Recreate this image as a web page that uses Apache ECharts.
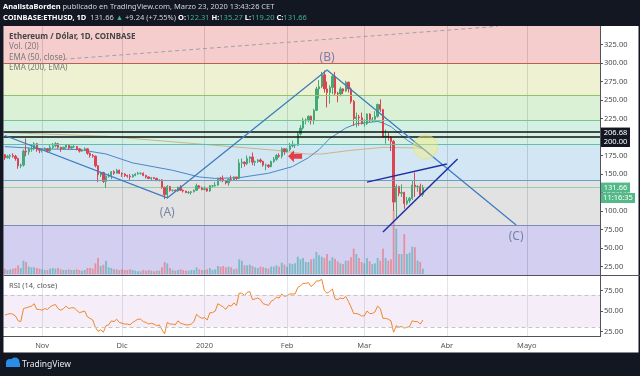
<!DOCTYPE html>
<html>
<head>
<meta charset="utf-8">
<script src="https://cdn.jsdelivr.net/npm/echarts@6/dist/echarts.min.js"></script>
<style>
    html, body { margin: 0; padding: 0; background: #131722; }
    #chart { width: 640px; height: 376px; }
</style>
</head>
<body>
<div id="chart"></div>
<script>
const FONT = "'Noto Sans', sans-serif";

/* Daily categories, 18 Oct 2019 to 28 May 2020. */
const dates = [];
let d = new Date(Date.UTC(2019, 9, 18));
for (let i = 0; i < 224; i++) {
    dates.push(d.toISOString().slice(0, 10));
    d.setUTCDate(d.getUTCDate() + 1);
}

const month_ticks = {
    '2019-11-01': 'Nov', '2019-12-01': 'Dic', '2020-01-01': '2020', '2020-02-01': 'Feb',
    '2020-03-01': 'Mar', '2020-04-01': 'Abr', '2020-05-01': 'Mayo'
};
const price_ticks = [25, 50, 75, 100, 125, 150, 175, 200, 225, 250, 275, 300, 325];
const rsi_ticks = [25, 50, 75];

/* [open, close, low, high] */
const ohlc = [
    [176,172,169,177],[172,174,171,176],[174,175,170,177],[175,174,172,178],[174,171,168,176],[171,161,157,172],[161,162,158,164],
    [162,181,160,183],[181,180,174,198],[180,184,176,186],[184,184,180,189],[184,191,182,193],[191,183,180,192],[183,182,178,185],
    [182,182,179,185],[182,184,181,186],[184,181,179,185],[181,186,180,190],[186,188,184,192],[188,191,186,193],[191,186,184,192],
    [186,184,180,187],[184,186,183,187],[186,189,184,190],[189,185,183,190],[185,187,183,188],[187,187,185,189],[187,184,182,188],
    [184,181,179,185],[181,182,180,184],[182,184,181,186],[184,178,176,185],[178,175,172,179],[175,174,172,177],[174,161,159,175],
    [161,149,139,162],[149,152,146,153],[152,140,138,153],[140,147,131,148],[147,148,145,151],[148,153,143,154],[153,151,149,155],
    [151,155,151,157],[155,151,150,156],
    [151,150,146,152],[150,148,146,151],[148,147,145,149],[147,146,142,150],[146,148,145,150],[148,150,147,151],[150,151,149,153],
    [151,151,149,152],[151,148,147,152],[148,146,144,149],[146,144,143,147],[144,145,142,146],[145,144,143,146],[144,141,141,145],
    [141,142,140,143],[142,132,130,143],[132,122,116,133],[122,133,117,135],[133,128,126,134],[128,128,126,129],[128,127,126,129],
    [127,132,126,133],[132,128,127,135],[128,127,125,129],[127,125,124,127],[125,125,123,127],[125,126,122,127],[126,128,125,129],
    [128,134,127,137],[134,131,130,135],[131,129,128,133],
    [129,130,128,133],[130,127,126,131],[127,134,126,135],[134,134,132,135],[134,135,133,139],[135,144,134,145],[144,143,140,146],
    [143,141,139,148],[141,138,136,142],[138,143,134,144],[143,142,140,148],[142,146,141,147],[146,144,142,146],[144,165,143,170],
    [165,166,158,171],[166,164,160,167],[164,171,162,175],[171,173,165,174],[173,166,162,179],[166,167,161,168],[167,169,165,170],
    [169,167,165,171],[167,162,160,168],[162,162,155,164],[162,160,158,163],[160,167,159,168],[167,170,165,173],[170,175,168,177],
    [175,174,172,178],[174,184,171,186],[184,180,176,185],
    [180,183,179,185],[183,188,181,192],[188,189,186,195],[189,189,185,191],[189,204,188,207],[204,212,202,216],[212,223,210,226],
    [223,223,217,225],[223,228,220,229],[228,222,217,229],[222,236,217,238],[236,265,235,268],[265,268,252,277],[268,284,266,288],
    [284,265,260,290],[265,260,240,275],[260,267,245,270],[267,282,258,284],[282,259,256,288],[259,258,247,261],[258,265,255,268],
    [265,262,258,266],[262,274,261,276],[274,265,260,275],[265,248,245,267],[248,225,215,250],[225,227,213,233],[227,226,215,230],
    [226,218,217,233],
    [218,218,214,224],[218,231,216,232],[231,224,220,232],[224,224,220,227],[224,228,223,235],[228,244,226,245],[244,237,234,251],
    [237,200,199,238],[200,201,191,210],[201,200,195,206],[200,194,181,201],[194,112,100,196],[112,133,90,136],[133,124,120,134],
    [124,125,119,136],[125,110,103,126],[110,114,108,119],[114,117,111,119],[117,135,115,141],[135,133,119,152],[133,133,126,135],
    [133,122,121,137],[122.31,131.66,119.20,135.27]
];

const volume = [
    80, 60, 70, 80, 90, 130, 90, 200, 180, 110, 100, 100, 90, 80,
    70, 60, 60, 80, 90, 80, 90, 70, 60, 60, 70, 60, 60, 70, 60, 50, 60, 90, 90, 80, 160, 240, 120, 140, 200, 100, 90, 70, 70, 60,
    70, 60, 60, 70, 60, 50, 40, 40, 60, 50, 60, 50, 40, 50, 50, 100, 180, 160, 90, 60, 50, 60, 70, 60, 50, 50, 60, 60, 100, 70, 60,
    60, 70, 90, 60, 70, 120, 110, 120, 100, 110, 100, 70, 80, 220, 200, 130, 130, 140, 120, 100, 90, 110, 100, 90, 80, 110, 110, 130, 110, 170, 140,
    110, 160, 150, 160, 260, 220, 240, 180, 180, 220, 230, 330, 280, 260, 240, 300, 200, 250, 230, 190, 160, 150, 200, 200, 250, 380, 300, 240, 180,
    160, 240, 190, 150, 160, 240, 200, 380, 240, 200, 220, 950, 680, 300, 300, 600, 300, 320, 410, 400, 200, 180, 80
];

const rsi = [
    45, 46, 47, 46, 44, 38, 37, 53, 54, 55, 56, 59, 52, 52,
    51, 53, 52, 55, 57, 58, 53, 51, 53, 56, 53, 54, 54, 51, 48, 49, 50, 43, 41, 39, 30, 25, 27, 24, 32, 33, 38, 37, 40, 36,
    35, 34, 34, 33, 36, 38, 40, 40, 37, 36, 34, 35, 34, 32, 33, 27, 22, 36, 34, 34, 33, 38, 35, 34, 33, 33, 34, 37, 46, 43, 41,
    42, 39, 48, 48, 50, 59, 57, 55, 52, 57, 56, 60, 57, 72, 72, 69, 73, 74, 64, 65, 66, 64, 59, 58, 57, 62, 64, 67, 66, 71, 68,
    69, 71, 71, 71, 79, 81, 84, 84, 85, 80, 83, 87, 87, 89, 75, 72, 74, 77, 65, 64, 66, 65, 68, 62, 55, 47, 47, 46, 44,
    44, 50, 47, 47, 49, 56, 53, 41, 41, 40, 38, 24, 32, 30, 31, 29, 30, 31, 38, 37, 37, 34, 39
];

const ema50 = [
    ['2019-10-18', 187], ['2019-11-01', 184], ['2019-11-15', 183], ['2019-11-25', 177], ['2019-12-05', 165],
    ['2019-12-20', 155], ['2019-12-30', 146], ['2020-01-05', 144], ['2020-01-14', 145], ['2020-01-25', 151],
    ['2020-02-03', 160], ['2020-02-09', 172], ['2020-02-13', 183], ['2020-02-17', 198], ['2020-02-23', 212],
    ['2020-02-27', 218], ['2020-03-06', 221], ['2020-03-08', 219], ['2020-03-11', 214], ['2020-03-14', 205],
    ['2020-03-17', 196], ['2020-03-20', 189], ['2020-03-23', 184]
];
const ema200 = [
    ['2019-10-18', 206], ['2019-11-25', 201], ['2020-01-04', 189], ['2020-01-28', 182], ['2020-02-08', 177],
    ['2020-02-14', 177], ['2020-02-25', 182], ['2020-03-08', 186], ['2020-03-23', 185]
];

/* Fibonacci levels (top to bottom) and drawings. */
const fib_levels = [350, 300, 257, 223, 190.5, 142, 81, 13.5];
const fib_fills = ['rgba(220,75,75,0.28)', 'rgba(195,207,87,0.27)', 'rgba(123,203,99,0.27)', 'rgba(87,199,155,0.27)',
    'rgba(87,163,215,0.27)', 'rgba(147,147,147,0.27)', 'rgba(91,79,203,0.27)'];
const fib_line_colors = ['#c0604c', '#94c26a', '#7cc48c', '#5fbfa8', '#6aa0c8', '#7d8cb0'];
const key_levels = [206.68, 200.00];
const last_price = 131.66;
const countdown = '11:16:35';

const wave_points = [['2019-10-18', 202], ['2019-12-18', 117.6], ['2020-02-16', 290.5], ['2020-04-27', 81]];
const wave_labels = [['2019-12-18', 98, '(A)'], ['2020-02-16', 307, '(B)'], ['2020-04-27', 66, '(C)']];
const wedge_upper = [['2020-03-02', 139], ['2020-04-01', 163.5]];
const wedge_lower = [['2020-03-08', 71.6], ['2020-04-05', 170.3]];
const dashed_trend = [['2019-11-09', 305], ['2020-04-20', 349.5]];
const circle_mark = [['2020-03-24', 186.5]];
const arrow_mark = [['2020-02-04', 174]];

const UP = '#45a878', DOWN = '#dc4452';
const VOL_UP = 'rgba(38,166,154,0.5)', VOL_DOWN = 'rgba(239,83,80,0.5)';

let chart = echarts.init(document.getElementById('chart'), null, {renderer: 'canvas'});

let fib_areas = [];
for (let i = 0; i < fib_fills.length; i++) {
    fib_areas.push([{yAxis: fib_levels[i + 1], itemStyle: {color: fib_fills[i]}}, {yAxis: fib_levels[i]}]);
}
let fib_lines = fib_line_colors.map(function (c, i) {
    return {yAxis: fib_levels[i + 1], lineStyle: {color: c, width: 1, type: 'solid'}};
});
key_levels.forEach(function (v) {
    fib_lines.push({yAxis: v, lineStyle: {color: '#111111', width: 1.6, type: 'solid'}});
});
fib_lines.push({yAxis: last_price, lineStyle: {color: '#53b987', width: 1, type: 'dotted'}});

let volume_data = volume.map(function (v, i) {
    return {value: v, itemStyle: {color: ohlc[i][1] >= ohlc[i][0] ? VOL_UP : VOL_DOWN}};
});

let month_split = function (index, value) {
    return month_ticks[value] !== undefined;
};

let option = {
    backgroundColor: '#ffffff',
    animation: false,
    textStyle: {fontFamily: FONT},
    grid: [
        {left: 3.5, top: 26, width: 596.5, height: 249},
        {left: 3.5, top: 276, width: 596.5, height: 60.5}
    ],
    xAxis: [
        {
            type: 'category', gridIndex: 0, data: dates, boundaryGap: true,
            axisLine: {show: false}, axisTick: {show: false}, axisLabel: {show: false},
            splitLine: {show: true, interval: month_split, alignWithLabel: true, lineStyle: {color: '#d6d8de', width: 1}}
        },
        {
            type: 'category', gridIndex: 1, data: dates, boundaryGap: true,
            axisLine: {show: true, lineStyle: {color: '#50535e', width: 1}},
            axisTick: {show: false},
            axisLabel: {
                interval: month_split, color: '#555555', fontSize: 7.5, margin: 5, fontFamily: FONT,
                formatter: function (value) { return month_ticks[value] || ''; }
            },
            splitLine: {show: true, interval: month_split, alignWithLabel: true, lineStyle: {color: '#e3e5ea', width: 1}}
        }
    ],
    yAxis: [
        {
            type: 'value', gridIndex: 0, position: 'right', min: 13.5, max: 350, scale: true,
            axisLine: {show: true, lineStyle: {color: '#50535e'}},
            axisTick: {show: true, customValues: price_ticks, length: 3, lineStyle: {color: '#50535e'}},
            axisLabel: {
                customValues: price_ticks, color: '#4a4a4a', fontSize: 7.5, margin: 4, fontFamily: FONT,
                formatter: function (v) { return v.toFixed(2); }
            },
            splitLine: {show: false}
        },
        {
            type: 'value', gridIndex: 0, min: -15, max: 3720, show: false, splitLine: {show: false}
        },
        {
            type: 'value', gridIndex: 1, position: 'right', min: 18.7, max: 93.1,
            axisLine: {show: true, lineStyle: {color: '#50535e'}},
            axisTick: {show: true, customValues: rsi_ticks, length: 3, lineStyle: {color: '#50535e'}},
            axisLabel: {
                customValues: rsi_ticks, color: '#4a4a4a', fontSize: 7.5, margin: 4, fontFamily: FONT,
                formatter: function (v) { return v.toFixed(2); }
            },
            splitLine: {show: false}
        }
    ],
    series: [
        {
            name: 'Fib', type: 'line', xAxisIndex: 0, yAxisIndex: 0, data: [], z: 1, silent: true,
            markArea: {silent: true, data: fib_areas},
            markLine: {silent: true, symbol: ['none', 'none'], label: {show: false}, data: fib_lines}
        },
        {
            name: 'EMA 200', type: 'line', xAxisIndex: 0, yAxisIndex: 0, data: ema200, z: 3,
            showSymbol: false, lineStyle: {color: '#cbb784', width: 1}
        },
        {
            name: 'EMA 50', type: 'line', xAxisIndex: 0, yAxisIndex: 0, data: ema50, z: 3,
            showSymbol: false, lineStyle: {color: '#4f86c6', width: 1}
        },
        {
            name: 'Vol', type: 'bar', xAxisIndex: 0, yAxisIndex: 1, data: volume_data, z: 2,
            barWidth: 1.8
        },
        {
            name: 'ETHUSD', type: 'candlestick', xAxisIndex: 0, yAxisIndex: 0, data: ohlc, z: 4,
            barWidth: 1.8,
            itemStyle: {color: UP, color0: DOWN, borderColor: UP, borderColor0: DOWN, borderWidth: 1}
        },
        {
            name: 'Trend', type: 'line', xAxisIndex: 0, yAxisIndex: 0, data: dashed_trend, z: 5,
            showSymbol: false, lineStyle: {color: '#a0a0a8', width: 1, type: [4, 3]}
        },
        {
            name: 'Waves', type: 'line', xAxisIndex: 0, yAxisIndex: 0, data: wave_points, z: 6,
            showSymbol: false, lineStyle: {color: '#3f7cbf', width: 1.3}
        },
        {
            name: 'Wedge up', type: 'line', xAxisIndex: 0, yAxisIndex: 0, data: wedge_upper, z: 6,
            showSymbol: false, lineStyle: {color: '#1f2fa8', width: 1.5}
        },
        {
            name: 'Wedge low', type: 'line', xAxisIndex: 0, yAxisIndex: 0, data: wedge_lower, z: 6,
            showSymbol: false, lineStyle: {color: '#1f2fa8', width: 1.5}
        },
        {
            name: 'Circle', type: 'scatter', xAxisIndex: 0, yAxisIndex: 0, data: circle_mark, z: 7,
            symbolSize: 24,
            itemStyle: {color: 'rgba(246,240,120,0.55)', borderColor: 'rgba(236,220,100,0.6)', borderWidth: 1}
        },
        {
            name: 'Arrow', type: 'scatter', xAxisIndex: 0, yAxisIndex: 0, data: arrow_mark, z: 7,
            symbol: 'path://M0,5 L5,0 L5,3 L12,3 L12,7 L5,7 L5,10 Z', symbolSize: [14, 12],
            itemStyle: {color: '#e8141e'}
        },
        {
            name: 'Labels', type: 'scatter', xAxisIndex: 0, yAxisIndex: 0, z: 7, symbolSize: 0,
            data: wave_labels.map(function (p) { return {value: [p[0], p[1]], name: p[2]}; }),
            label: {
                show: true, position: 'inside', formatter: '{b}', color: '#5b6f96',
                fontSize: 12, fontFamily: FONT
            }
        },
        {
            name: 'RSI band', type: 'line', xAxisIndex: 1, yAxisIndex: 2, data: [], z: 1, silent: true,
            markArea: {silent: true, itemStyle: {color: 'rgba(155,89,182,0.1)'}, data: [[{yAxis: 30}, {yAxis: 70}]]},
            markLine: {
                silent: true, symbol: ['none', 'none'], label: {show: false},
                lineStyle: {color: '#c4c4cc', type: [4, 3], width: 1},
                data: [{yAxis: 70}, {yAxis: 30}]
            }
        },
        {
            name: 'RSI', type: 'line', xAxisIndex: 1, yAxisIndex: 2, data: rsi, z: 3,
            showSymbol: false, lineStyle: {color: '#f0862a', width: 1}
        }
    ]
};

chart.setOption(option);

/* Frame, header, legend and price tags. */
function tag(y, w, text, bg) {
    return [
        {type: 'rect', shape: {x: 601, y: y - 5, width: w, height: 10}, style: {fill: bg}, z: 20},
        {
            type: 'text', x: 601 + w / 2, y: y, z: 21,
            style: {
                text: text, fill: '#ffffff', font: '7.5px ' + FONT,
                align: 'center', verticalAlign: 'middle', textAlign: 'center', textVerticalAlign: 'middle'
            }
        }
    ];
}

let y_key0 = chart.convertToPixel({yAxisIndex: 0}, key_levels[0]);
let y_key1 = chart.convertToPixel({yAxisIndex: 0}, key_levels[1]);
let y_last = chart.convertToPixel({yAxisIndex: 0}, last_price);

let header_rich = {
    b: {fill: '#ffffff', color: '#ffffff', fontWeight: 'bold', fontSize: 7.5, fontFamily: FONT},
    n: {fill: '#d1d4dc', color: '#d1d4dc', fontSize: 7.5, fontFamily: FONT},
    g: {fill: '#3fae96', color: '#3fae96', fontSize: 7.5, fontFamily: FONT}
};

let graphics = [
    {type: 'rect', shape: {x: 0, y: 0, width: 640, height: 26}, style: {fill: '#131722'}, z: 10},
    {type: 'rect', shape: {x: 0, y: 352.5, width: 640, height: 24}, style: {fill: '#131722'}, z: 10},
    {type: 'rect', shape: {x: 0, y: 0, width: 3.5, height: 376}, style: {fill: '#131722'}, z: 10},
    {type: 'rect', shape: {x: 638.5, y: 0, width: 1.5, height: 376}, style: {fill: '#131722'}, z: 10},
    {type: 'line', shape: {x1: 3.5, y1: 275.5, x2: 640, y2: 275.5}, style: {stroke: '#50535e', lineWidth: 1}, z: 10},
    {
        type: 'text', x: 3, y: 7, z: 11,
        style: {
            text: '{b|AnalistaBorden}{n| publicado en TradingView.com, Marzo 23, 2020 13:43:26 CET}',
            rich: header_rich, fill: '#d1d4dc', verticalAlign: 'middle', textVerticalAlign: 'middle'
        }
    },
    {
        type: 'text', x: 3, y: 18, z: 11,
        style: {
            text: '{b|COINBASE:ETHUSD, 1D}{n|  131.66 }{g|▲}{n| +9.24 (+7.55%) }{b|O:}{g|122.31 }{b|H:}{g|135.27 }{b|L:}{g|119.20 }{b|C:}{g|131.66}',
            rich: header_rich, fill: '#d1d4dc', verticalAlign: 'middle', textVerticalAlign: 'middle'
        }
    },
    {
        type: 'text', x: 9, y: 37, z: 11,
        style: {text: 'Ethereum / Dólar, 1D, COINBASE', fill: '#454545', font: 'bold 8px ' + FONT, verticalAlign: 'middle', textVerticalAlign: 'middle'}
    },
    {type: 'text', x: 9, y: 47, z: 11, style: {text: 'Vol. (20)', fill: '#7a7a7a', font: '8px ' + FONT, verticalAlign: 'middle', textVerticalAlign: 'middle'}},
    {type: 'text', x: 9, y: 58, z: 11, style: {text: 'EMA (50, close)', fill: '#7a7a7a', font: '8px ' + FONT, verticalAlign: 'middle', textVerticalAlign: 'middle'}},
    {type: 'text', x: 9, y: 68, z: 11, style: {text: 'EMA (200, EMA)', fill: '#7a7a7a', font: '8px ' + FONT, verticalAlign: 'middle', textVerticalAlign: 'middle'}},
    {type: 'text', x: 9, y: 286, z: 11, style: {text: 'RSI (14, close)', fill: '#5a5a5a', font: '7.5px ' + FONT, verticalAlign: 'middle', textVerticalAlign: 'middle'}},
    /* TradingView logo */
    {type: 'circle', shape: {cx: 10, cy: 363, r: 4}, style: {fill: '#2b8ee6'}, z: 11},
    {type: 'circle', shape: {cx: 15, cy: 362, r: 4.5}, style: {fill: '#2b8ee6'}, z: 11},
    {type: 'rect', shape: {x: 6, y: 363, width: 14, height: 4}, style: {fill: '#2b8ee6'}, z: 11},
    {
        type: 'text', x: 22, y: 365, z: 11,
        style: {text: 'TradingView', fill: '#e8e8ec', font: '8.5px ' + FONT, verticalAlign: 'middle', textVerticalAlign: 'middle'}
    }
];
graphics = graphics.concat(
    tag(y_key0 + 0.5, 29, key_levels[0].toFixed(2), '#131722'),
    tag(y_key1 + 5, 29, key_levels[1].toFixed(2), '#131722'),
    tag(y_last, 29, last_price.toFixed(2), '#53b987'),
    tag(y_last + 10.5, 34, countdown, '#53b987')
);

chart.setOption({graphic: graphics});
</script>
</body>
</html>
